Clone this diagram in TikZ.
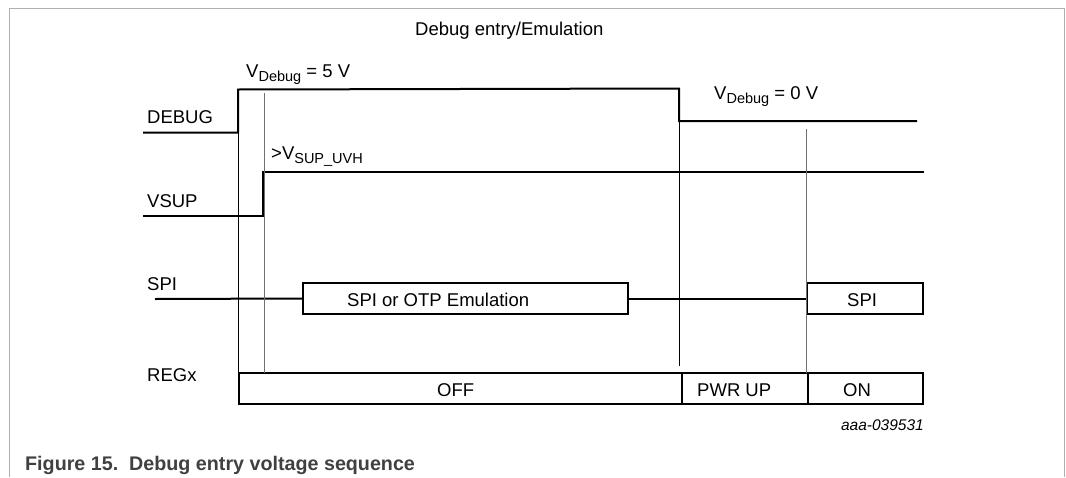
\documentclass[tikz,border=0pt]{standalone}
\usepackage{fontspec}
\setmainfont{Liberation Sans}
\usetikzlibrary{positioning}
\definecolor{framegray}{HTML}{B0B0B0}
\definecolor{guidegray}{HTML}{707070}
\definecolor{captiongray}{HTML}{404040}
\newcommand{\lowsub}[1]{\raisebox{-4.5pt}{\fontsize{14.5}{16}\selectfont #1}}
\tikzset{
  sig/.style={line width=2pt},
  guide/.style={line width=1pt},
  lbl/.style={font=\fontsize{18.5}{22}\selectfont, inner sep=0pt, anchor=base west},
  phase/.style={draw, line width=2pt, inner sep=0pt, outer sep=0pt, anchor=north west, minimum height=31pt}
}
\begin{document}
\begin{tikzpicture}[x=1pt,y=-1pt]
\useasboundingbox (0,0) rectangle (1066,477);
% frame
\draw[framegray, line width=1pt] (9,477) -- (9,8) -- (1064,8) -- (1064,477);
% title and signal names
\node[lbl] (title) at (415,35) {Debug entry/Emulation};
\node[lbl] (ndebug) at (147,123) {DEBUG};
\node[lbl] (nvsup) at (147,207) {VSUP};
\node[lbl] (nspi) at (147,290) {SPI};
\node[lbl] (nregx) at (147,381) {REGx};
% DEBUG
\coordinate (d0) at (143,132.5);
\coordinate (d1) at (238,89.5);
\coordinate (d2) at (679,88.5);
\coordinate (d3) at (679,121);
\coordinate (d4) at (917,121);
\draw[sig] (d0) -| (d1) -- (d2) -- (d3) -- (d4);
\node[lbl] (vhigh) at (246,77) {V\lowsub{Debug} = 5 V};
\node[lbl] (vlow) at (714,99) {V\lowsub{Debug} = 0 V};
% VSUP
\coordinate (s0) at (143,215.5);
\coordinate (s1) at (263,172);
\coordinate (s2) at (924,172);
\draw[sig] (s0) -| (s1) -- (s2);
\node[lbl] (vuvh) at (271,159) {>V\lowsub{SUP\_UVH}};
% SPI
\node[phase, minimum width=325pt] (emu) at (303,283) {};
\node[phase, minimum width=116pt] (spibox) at (807,283) {};
\coordinate (p0) at (155,299);
\draw[sig] (p0) -- (emu.west);
\draw[sig] (emu.east) -- (spibox.west);
\node[lbl] (emutxt) at (347,306) {SPI or OTP Emulation};
\node[lbl] (spitxt) at (847,306) {SPI};
% REGx
\node[phase, minimum width=443pt] (off) at (239,373) {};
\node[phase, minimum width=126pt] (pwr) at (off.north east) {};
\node[phase, minimum width=115pt] (on) at (pwr.north east) {};
\node[lbl] (offtxt) at (437,396) {OFF};
\node[lbl] (pwrtxt) at (697,396) {PWR UP};
\node[lbl] (ontxt) at (843,396) {ON};
% guide lines
\draw[guide] (d1) -- (d1 |- off.north);
\draw[guide, guidegray] (264,93) -- (264,373);
\draw[guide] (d3) -- (679,366);
\draw[guide, guidegray] (806,129) -- (806 ,373);
% figure id and caption
\node[inner sep=0pt, anchor=base east, font=\fontsize{15.5}{18}\selectfont\itshape] (figid) at (924,430) {aaa-039531};
\node[inner sep=0pt, anchor=base west, text=captiongray, font=\fontsize{19.7}{23}\selectfont\bfseries] (caption) at (25,470) {Figure 15.\ \ Debug entry voltage sequence};
\end{tikzpicture}
\end{document}
